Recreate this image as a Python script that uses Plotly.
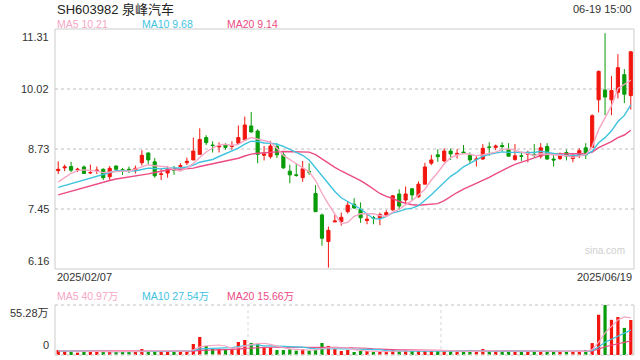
import plotly.graph_objects as go
import pandas as pd

# ---------------- data ----------------
opens = [8.27, 8.33, 8.36, 8.29, 8.35, 8.22, 8.27, 8.30, 8.14, 8.37,
         8.29, 8.30, 8.27, 8.44, 8.65, 8.46, 8.19, 8.22, 8.30, 8.36,
         8.44, 8.50, 8.62, 8.98, 8.82, 8.78, 8.83, 8.79, 8.86, 8.93,
         9.23, 9.12, 8.60, 8.57, 8.79, 8.61, 8.26, 8.18, 8.12, 8.25,
         7.78, 7.32, 6.75, 7.17, 7.18, 7.39, 7.55, 7.44, 7.20, 7.26,
         7.25, 7.32, 7.43, 7.77, 7.64, 7.88, 7.71, 7.98, 8.43, 8.61,
         8.48, 8.69, 8.62, 8.67, 8.60, 8.51, 8.52, 8.78, 8.77, 8.81,
         8.73, 8.51, 8.59, 8.62, 8.62, 8.58, 8.79, 8.52, 8.53, 8.66,
         8.53, 8.59, 8.76, 8.77, 9.79, 10.00, 9.79, 9.95, 10.33, 9.88]
highs = [8.47, 8.40, 8.46, 8.33, 8.38, 8.40, 8.36, 8.32, 8.37, 8.38,
         8.33, 8.36, 8.38, 8.71, 8.66, 8.54, 8.33, 8.37, 8.37, 8.43,
         8.55, 8.98, 9.18, 9.03, 8.90, 8.88, 8.86, 8.90, 9.24, 9.43,
         9.53, 9.16, 8.80, 8.91, 8.86, 8.68, 8.40, 8.42, 8.48, 8.43,
         7.96, 7.35, 7.07, 7.32, 7.37, 7.62, 7.68, 7.59, 7.34, 7.30,
         7.37, 7.42, 7.75, 7.87, 7.93, 7.90, 8.04, 8.44, 8.61, 8.73,
         8.75, 8.75, 8.73, 8.82, 8.66, 8.58, 8.84, 8.88, 8.83, 8.88,
         8.86, 8.84, 8.66, 8.70, 8.84, 8.86, 8.86, 8.61, 8.66, 8.72,
         8.64, 8.75, 8.86, 9.48, 10.42, 11.22, 10.30, 10.77, 10.45, 10.84]
lows = [8.20, 8.26, 8.24, 8.24, 8.20, 8.20, 8.20, 8.07, 8.06, 8.26,
        8.18, 8.22, 8.21, 8.38, 8.40, 8.12, 8.07, 8.12, 8.18, 8.33,
        8.39, 8.50, 8.61, 8.82, 8.66, 8.66, 8.72, 8.72, 8.84, 8.92,
        9.09, 8.43, 8.49, 8.53, 8.54, 8.31, 8.00, 8.14, 8.03, 8.18,
        7.39, 6.66, 6.19, 7.17, 7.09, 7.35, 7.45, 7.15, 7.12, 7.12,
        7.10, 7.30, 7.41, 7.44, 7.55, 7.64, 7.69, 7.98, 8.39, 8.46,
        8.45, 8.50, 8.53, 8.63, 8.43, 8.36, 8.50, 8.59, 8.71, 8.68,
        8.58, 8.48, 8.48, 8.45, 8.55, 8.53, 8.50, 8.36, 8.50, 8.49,
        8.45, 8.54, 8.52, 8.77, 9.52, 9.46, 9.46, 9.82, 9.72, 9.58]
closes = [8.30, 8.35, 8.28, 8.30, 8.21, 8.23, 8.28, 8.12, 8.32, 8.30,
          8.28, 8.29, 8.32, 8.60, 8.50, 8.16, 8.20, 8.30, 8.28, 8.38,
          8.47, 8.69, 8.94, 8.87, 8.81, 8.80, 8.77, 8.81, 8.98, 9.25,
          9.10, 8.62, 8.63, 8.80, 8.61, 8.33, 8.18, 8.17, 8.31, 8.24,
          7.39, 6.82, 6.99, 7.19, 7.27, 7.53, 7.47, 7.26, 7.23, 7.25,
          7.33, 7.37, 7.73, 7.51, 7.77, 7.75, 7.98, 8.35, 8.50, 8.57,
          8.69, 8.63, 8.64, 8.65, 8.50, 8.52, 8.75, 8.77, 8.80, 8.79,
          8.58, 8.59, 8.58, 8.63, 8.60, 8.76, 8.52, 8.50, 8.59, 8.58,
          8.59, 8.70, 8.61, 9.45, 10.40, 9.85, 9.99, 10.48, 9.91, 10.82]
volumes = [5.5, 4.0, 3.7, 2.6, 3.7, 3.7, 3.7, 3.7, 3.7, 3.7,
           3.5, 3.5, 3.5, 6.6, 4.4, 4.4, 4.4, 3.7, 3.7, 4.4,
           4.4, 12.2, 19.9, 10.0, 6.6, 6.6, 6.6, 6.6, 14.4, 16.6,
           13.3, 12.2, 8.5, 8.5, 5.5, 5.5, 6.3, 4.8, 6.3, 4.8,
           5.5, 13.3, 10.0, 6.6, 4.4, 5.5, 3.3, 4.4, 4.4, 3.3,
           3.3, 3.3, 6.3, 4.4, 5.5, 5.5, 4.4, 5.5, 5.5, 4.8,
           4.4, 4.4, 3.3, 4.4, 3.7, 3.3, 6.6, 4.4, 4.4, 3.7,
           3.8, 3.8, 3.7, 3.8, 3.8, 3.7, 3.8, 3.8, 3.8, 3.8,
           3.7, 3.7, 5.5, 13.15, 44.5, 55.28, 38.9, 42.0, 29.97, 38.7]

# moving-average values for days before a full window exists
ma5_head = [8.03, 8.12, 8.21, 8.27]
ma10_head = [7.91, 7.95, 7.99, 8.03, 8.07, 8.10, 8.14, 8.18, 8.22]
ma20_head = [7.75, 7.79, 7.83, 7.86, 7.90, 7.94, 7.98, 8.03, 8.06, 8.09,
             8.11, 8.13, 8.15, 8.17, 8.20, 8.23, 8.26, 8.29, 8.31]
vma5_head = [4.7, 4.5, 4.3, 4.1]
vma10_head = [4.5, 4.5, 4.4, 4.4, 4.3, 4.2, 4.2, 4.1, 4.0]
vma20_head = [4.6, 4.6, 4.5, 4.5, 4.5, 4.4, 4.4, 4.4, 4.3, 4.3,
              4.3, 4.2, 4.2, 4.2, 4.2, 4.1, 4.1, 4.1, 4.1]

price_ticks = [11.31, 10.02, 8.73, 7.45, 6.16]
vol_ticks = ["55.28万", "0"]
date_labels = ["2025/02/07", "2025/06/19"]
title = "SH603982 泉峰汽车"
time_label = "06-19 15:00"

# ---------------- derived ----------------
n = len(closes)
xs = list(range(n))


def ma(series, w, head):
    r = pd.Series(series).rolling(w).mean().tolist()
    return head + r[len(head):]


ma5 = ma(closes, 5, ma5_head)
ma10 = ma(closes, 10, ma10_head)
ma20 = ma(closes, 20, ma20_head)
vma5 = ma(volumes, 5, vma5_head)
vma10 = ma(volumes, 10, vma10_head)
vma20 = ma(volumes, 20, vma20_head)

RED = "#f2160f"
GREEN = "#089c08"
C5 = "#f7a6c4"
C10 = "#3fc3df"
C20 = "#ec4b85"
FONT = "Arial, 'Liberation Sans', 'Noto Sans CJK SC'"
vol_colors = [RED if c >= o else GREEN for o, c in zip(opens, closes)]

fig = go.Figure()
fig.add_trace(go.Candlestick(
    x=xs, open=opens, high=highs, low=lows, close=closes,
    increasing=dict(line=dict(color=RED, width=1), fillcolor=RED),
    decreasing=dict(line=dict(color=GREEN, width=1), fillcolor=GREEN),
    whiskerwidth=0, xaxis="x", yaxis="y", showlegend=False,
))
for vals, col in [(ma20, C20), (ma10, C10), (ma5, C5)]:
    fig.add_trace(go.Scatter(x=xs, y=vals, mode="lines",
                             line=dict(color=col, width=1.4),
                             xaxis="x", yaxis="y", showlegend=False))

fig.add_trace(go.Bar(x=xs, y=volumes, marker=dict(color=vol_colors, line=dict(width=0)),
                     width=0.5, xaxis="x2", yaxis="y2", showlegend=False))
for vals, col in [(vma20, C20), (vma10, C10), (vma5, C5)]:
    fig.add_trace(go.Scatter(x=xs, y=vals, mode="lines",
                             line=dict(color=col, width=1.2),
                             xaxis="x2", yaxis="y2", showlegend=False))

X0, X1 = 55 / 640, 634 / 640
fig.update_layout(
    width=640, height=360, margin=dict(l=0, r=0, t=0, b=0),
    paper_bgcolor="white", plot_bgcolor="white",
    font=dict(family=FONT, size=11, color="#333333"),
    boxgap=0.3,
    xaxis=dict(domain=[X0, X1], range=[-0.5, n - 0.5], showticklabels=False,
               showgrid=False, zeroline=False, rangeslider=dict(visible=False),
               fixedrange=True),
    yaxis=dict(domain=[1 - 269 / 360, 1 - 29 / 360], range=[price_ticks[-1], price_ticks[0]],
               tickvals=price_ticks[1:-1], showticklabels=False, showgrid=True,
               gridcolor="#dedede", griddash="dot", gridwidth=1.5, zeroline=False),
    xaxis2=dict(domain=[X0, X1], range=[-0.5, n - 0.5], showticklabels=False,
                showgrid=False, zeroline=False, anchor="y2"),
    yaxis2=dict(domain=[5 / 360, 55 / 360], range=[0, 55.28], showticklabels=False,
                showgrid=False, zeroline=False, anchor="x2"),
)

shapes = [
    dict(type="rect", xref="x domain", yref="y domain", x0=0, x1=1, y0=0, y1=1,
         line=dict(color="#cccccc", width=1)),
    dict(type="line", xref="x2 domain", yref="y2 domain", x0=0, x1=0, y0=0, y1=1,
         line=dict(color="#cccccc", width=1)),
    dict(type="line", xref="x2 domain", yref="y2 domain", x0=1, x1=1, y0=0, y1=1,
         line=dict(color="#cccccc", width=1)),
    dict(type="line", xref="x2 domain", yref="y2 domain", x0=0, x1=1, y0=1, y1=1,
         line=dict(color="#d6d6d6", width=1.5, dash="dot")),
    dict(type="line", xref="x2 domain", yref="y2 domain", x0=0, x1=1, y0=0, y1=0,
         line=dict(color="#d6d6d6", width=1.5, dash="dot")),
    dict(type="line", xref="x2 domain", yref="y2 domain", x0=1 / 3, x1=1 / 3, y0=0, y1=1,
         line=dict(color="#d6d6d6", width=1, dash="dot")),
    dict(type="line", xref="x2 domain", yref="y2 domain", x0=2 / 3, x1=2 / 3, y0=0, y1=1,
         line=dict(color="#d6d6d6", width=1, dash="dot")),
]
fig.update_layout(shapes=shapes)

ann = []
# price tick labels
for i, v in enumerate(price_ticks):
    ya = "top" if i == 0 else ("bottom" if i == len(price_ticks) - 1 else "middle")
    ann.append(dict(xref="paper", yref="y", x=51 / 640, y=v, xanchor="right", yanchor=ya,
                    text=f"{v:.2f}", showarrow=False, font=dict(size=11, color="#333333")))
# volume tick labels
ann.append(dict(xref="paper", yref="y2", x=51 / 640, y=55.28, xanchor="right", yanchor="top",
                text=vol_ticks[0], showarrow=False, font=dict(size=11, color="#333333")))
ann.append(dict(xref="paper", yref="y2", x=51 / 640, y=0, xanchor="right", yanchor="bottom",
                yshift=2, text=vol_ticks[1], showarrow=False, font=dict(size=11, color="#333333")))
# dates
ann.append(dict(xref="paper", yref="paper", x=X0, y=1 - 277 / 360, xanchor="left", yanchor="middle",
                text=date_labels[0], showarrow=False, font=dict(size=11, color="#333333")))
ann.append(dict(xref="paper", yref="paper", x=X1, y=1 - 277 / 360, xanchor="right", yanchor="middle",
                text=date_labels[1], showarrow=False, font=dict(size=11, color="#333333")))
# header
ann.append(dict(xref="paper", yref="paper", x=X0, y=1 - 9 / 360, xanchor="left", yanchor="middle",
                text=title, showarrow=False, font=dict(size=13, color="#222222")))
ann.append(dict(xref="paper", yref="paper", x=X1, y=1 - 9 / 360, xanchor="right", yanchor="middle",
                text=time_label, showarrow=False, font=dict(size=11, color="#333333")))
# MA legends
leg_x = [55 / 640, 140 / 640, 225 / 640]
price_leg = [(f"MA5 {ma5[-1]:.2f}", C5), (f"MA10 {ma10[-1]:.2f}", C10), (f"MA20 {ma20[-1]:.2f}", C20)]
vol_leg = [(f"MA5 {vma5[-1]:.2f}万", C5), (f"MA10 {vma10[-1]:.2f}万", C10), (f"MA20 {vma20[-1]:.2f}万", C20)]
for (t, c), xx in zip(price_leg, leg_x):
    ann.append(dict(xref="paper", yref="paper", x=xx, y=1 - 24 / 360, xanchor="left", yanchor="middle",
                    text=t, showarrow=False, font=dict(size=10.5, color=c)))
for (t, c), xx in zip(vol_leg, leg_x):
    ann.append(dict(xref="paper", yref="paper", x=xx, y=1 - 296 / 360, xanchor="left", yanchor="middle",
                    text=t, showarrow=False, font=dict(size=10.5, color=c)))
# watermark
ann.append(dict(xref="paper", yref="paper", x=627 / 640, y=1 - 250 / 360, xanchor="right", yanchor="middle",
                text="sina.com", showarrow=False, font=dict(size=10, color="#cfcfcf")))
fig.update_layout(annotations=ann)

fig.write_html("out.html")
